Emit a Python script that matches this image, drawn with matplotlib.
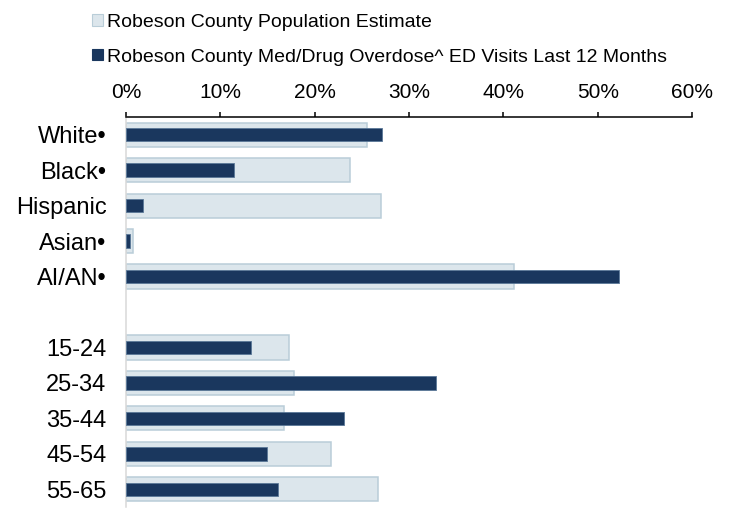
import numpy as np
import matplotlib
matplotlib.use("Agg")
import matplotlib.pyplot as plt
from matplotlib.patches import Patch

plt.rcParams['font.family'] = ['Liberation Sans', 'DejaVu Sans']

# race groups, then an empty slot, then age groups
categories = ["White\u2022", "Black\u2022", "Hispanic", "Asian\u2022", "AI/AN\u2022", "",
              "15-24", "25-34", "35-44", "45-54", "55-65"]
population_pct = [25.5, 23.7, 27.0, 0.7, 41.1, np.nan, 17.3, 17.8, 16.8, 21.7, 26.7]
overdose_pct = [27.1, 11.5, 1.8, 0.45, 52.3, np.nan, 13.2, 32.9, 23.1, 14.9, 16.1]
xticks = [0, 10, 20, 30, 40, 50, 60]

light_fill = "#dce6ec"
light_edge = "#b9cdd8"
dark_fill = "#1a375e"
dark_edge = "#5a7898"

fig = plt.figure(figsize=(7.29, 5.08), dpi=100)
ax = fig.add_axes([126 / 729, 1 / 508, (692 - 126) / 729, (507 - 117) / 508])

y = np.arange(len(categories))
ax.barh(y, population_pct, height=0.68, color=light_fill, edgecolor=light_edge,
        linewidth=1.1, zorder=2)
ax.barh(y, overdose_pct, height=0.38, color=dark_fill, edgecolor=dark_edge,
        linewidth=0.6, zorder=3)

ax.set_xlim(0, 60)
ax.set_ylim(len(categories) - 0.5, -0.5)
ax.set_yticks(y)
ax.set_yticklabels(categories, fontsize=17)
ax.tick_params(axis='y', length=0, pad=14)

ax.xaxis.tick_top()
ax.set_xticks(xticks)
ax.set_xticklabels([f"{t}%" for t in xticks], fontsize=15)
ax.tick_params(axis='x', direction='out', length=3.6, width=1.1, pad=7, color='black')

for s in ['right', 'bottom']:
    ax.spines[s].set_visible(False)
ax.spines['top'].set_linewidth(1.1)
ax.spines['top'].set_color('black')
ax.spines['left'].set_color('#d9d9d9')
ax.spines['left'].set_linewidth(1.1)

handles = [Patch(facecolor=light_fill, edgecolor=light_edge, linewidth=0.8),
           Patch(facecolor=dark_fill, edgecolor=dark_fill, linewidth=0.8)]
labels = ["Robeson County Population Estimate",
          "Robeson County Med/Drug Overdose^ ED Visits Last 12 Months"]
fig.legend(handles, labels, loc='upper left', bbox_to_anchor=(92 / 729, 1 - 14 / 508),
           frameon=False, fontsize=14, handlelength=0.55, handleheight=0.55,
           handletextpad=0.2, labelspacing=0.9, borderpad=0, borderaxespad=0)

fig.savefig("out.png", dpi=100)
